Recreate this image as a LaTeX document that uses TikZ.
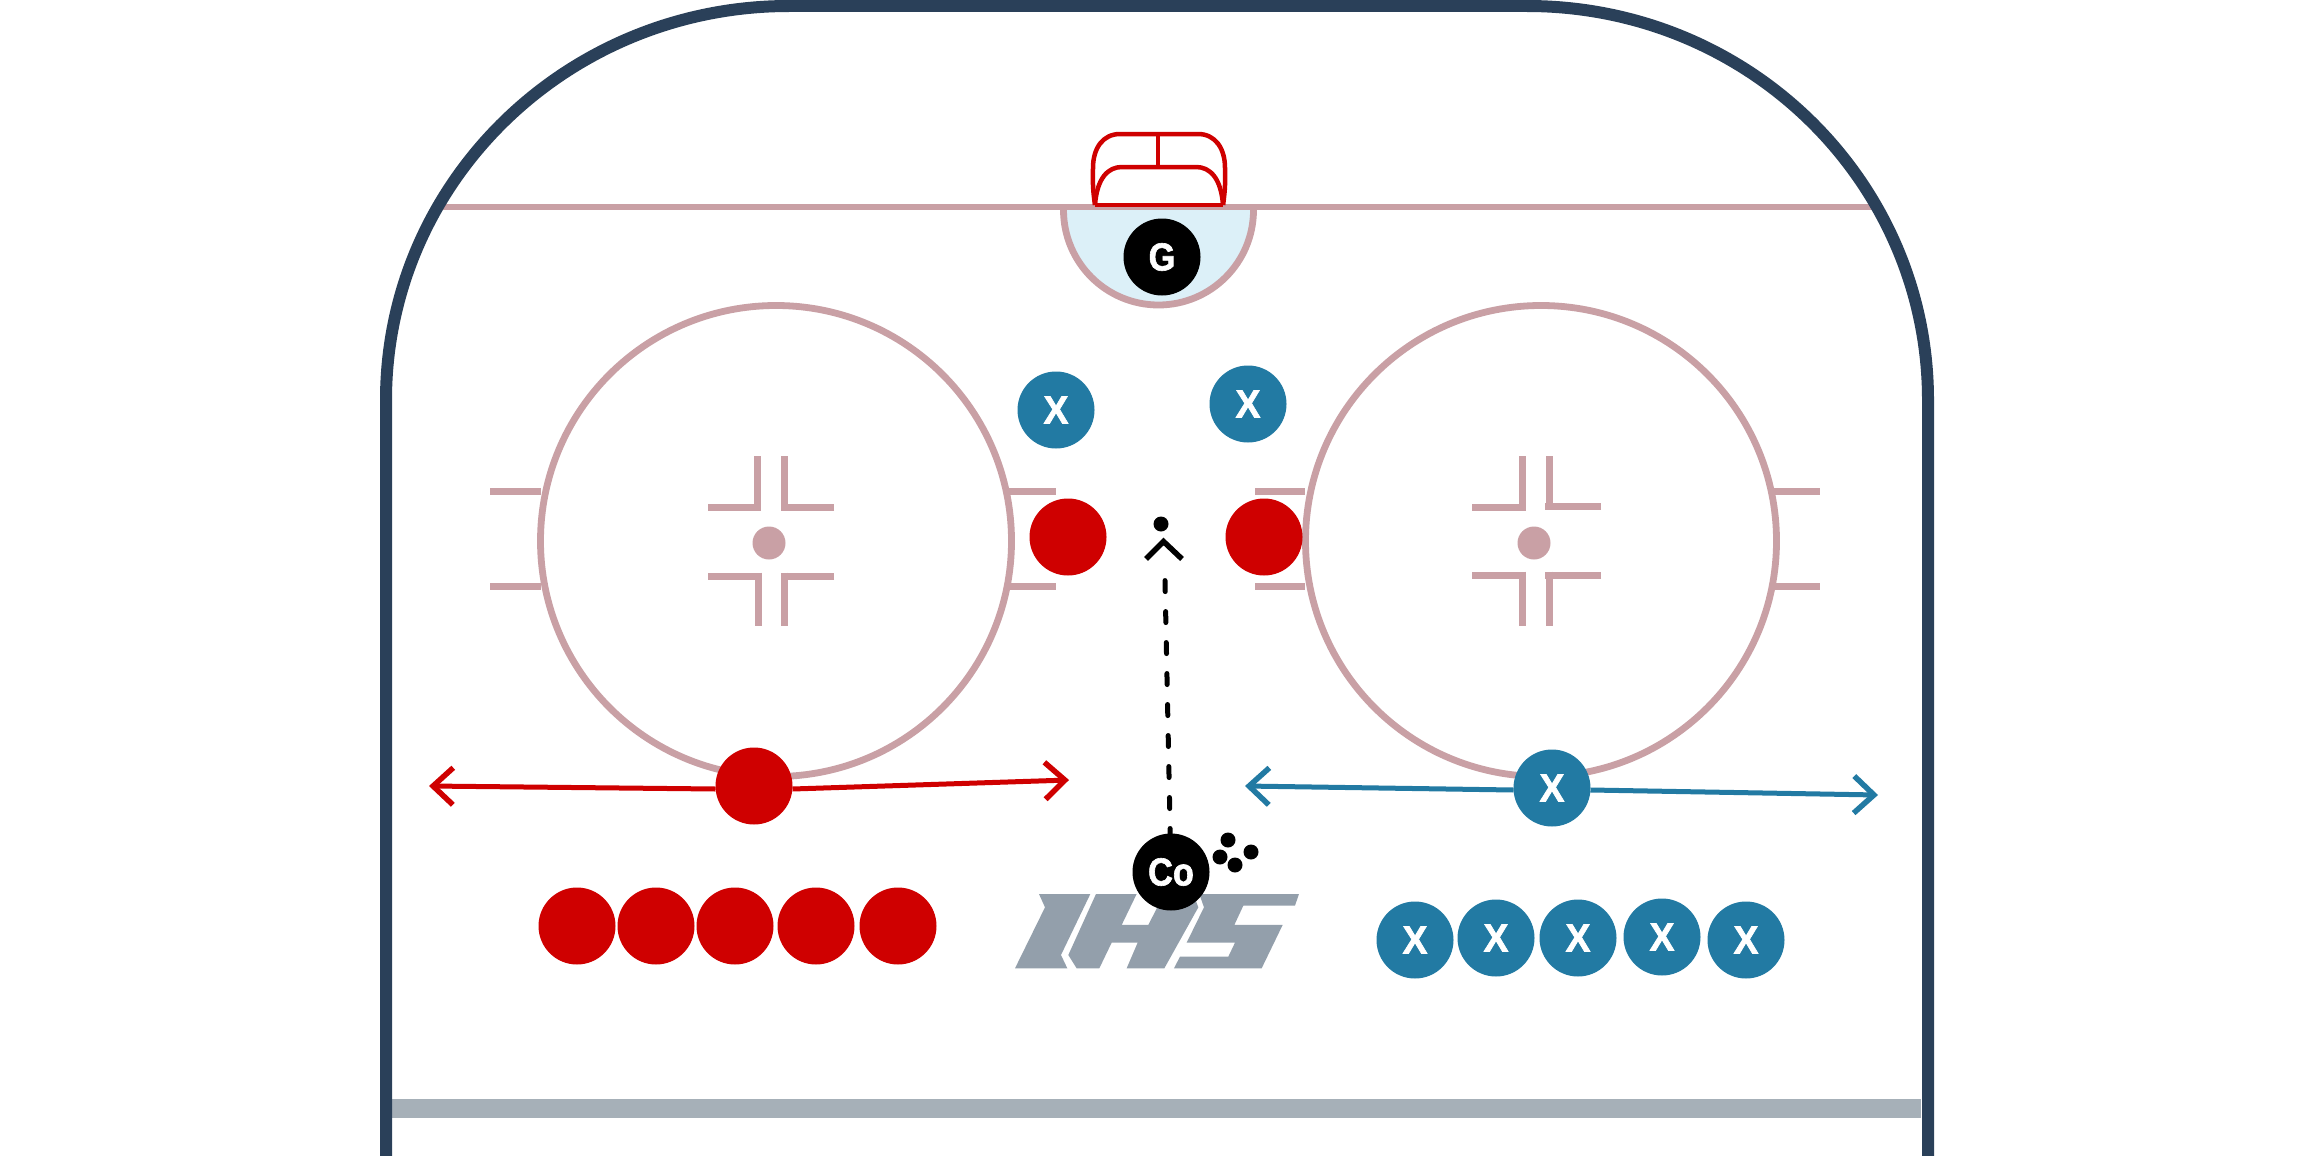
\documentclass[tikz,border=0pt]{standalone}
\usepackage{fontspec}
\setmainfont{Liberation Sans}
\newfontfamily\xfont[FakeBold=1.8,FakeStretch=0.95]{Liberation Sans Bold}
\newfontfamily\gfont[FakeBold=1.6,FakeStretch=0.88]{Liberation Sans Bold}
\usetikzlibrary{arrows.meta}
\definecolor{navy}{HTML}{2A4059}
\definecolor{rinkline}{HTML}{C9A0A5}
\definecolor{creasefill}{HTML}{DCF0F8}
\definecolor{redp}{HTML}{CF0000}
\definecolor{bluep}{HTML}{227AA3}
\definecolor{logogrey}{HTML}{939FAB}
\definecolor{bargrey}{HTML}{A6B0B8}
\tikzset{
  board/.style={draw=navy,line width=12pt},
  rink/.style={draw=rinkline,line width=5.5pt},
  ringline/.style={draw=rinkline,line width=6.8pt},
  facemark/.style={draw=rinkline,line width=7pt},
  disc/.style={circle,minimum size=77pt,inner sep=0pt,outer sep=0pt,text=white,font=\gfont\fontsize{39}{39}\selectfont},
  redplayer/.style={disc,fill=redp},
  blueplayer/.style={disc,fill=bluep,font=\xfont\fontsize{39}{39}\selectfont},
  blackplayer/.style={disc,fill=black},
  puck/.style={circle,fill=black,minimum size=15pt,inner sep=0pt},
  barb/.style={-{Straight Barb[length=20pt,width=37pt,line width=5.5pt]},line width=5pt},
  netline/.style={draw=redp,line width=4.5pt,line join=round},
  pass/.style={line width=5pt,line cap=round,dash pattern=on 11pt off 20pt,dash phase=6pt},
  chevron/.style={line width=5.5pt,line join=miter}
}
\begin{document}
\begin{tikzpicture}[x=1pt,y=-1pt]
\useasboundingbox[fill=white] (0,0) rectangle (2313,1156);
% goal line and bar
\draw[rink] (440,207) -- (1873,207);
\fill[bargrey] (392,1099) rectangle (1921,1118);
% board
\draw[board] (386,1170) -- (386,400) .. controls (386,183) and (566,6) .. (789,6)
  -- (1527,6) .. controls (1750,6) and (1928,183) .. (1928,400) -- (1928,1170);
% crease
\filldraw[ringline,fill=creasefill] (1063.5,210) arc[start angle=180,end angle=360,radius=95pt];
\draw[rink] (1058,207) -- (1258,207);
% net
\draw[netline] (1095,205) -- (1223,205);
\draw[netline] (1095,205) .. controls (1092,185) and (1093,175) .. (1093,168)
  .. controls (1093,148) and (1103,134) .. (1120,134) -- (1198,134)
  .. controls (1215,134) and (1225,148) .. (1225,168)
  .. controls (1225,175) and (1226,185) .. (1223,205);
\draw[netline] (1095,205) .. controls (1097,178) and (1108,167) .. (1122,167) -- (1196,167)
  .. controls (1210,167) and (1221,178) .. (1223,205);
\draw[netline] (1158,134) -- (1158,167);
% circles
\draw[ringline] (776,541) circle[radius=235.5pt];
\draw[ringline] (1541,541) circle[radius=235.5pt];
% hash marks
\foreach \yy in {491,586}{
  \draw[facemark] (490,\yy) -- (541,\yy);
  \draw[facemark] (1008,\yy) -- (1056,\yy);
  \draw[facemark] (1255,\yy) -- (1305,\yy);
  \draw[facemark] (1774,\yy) -- (1820,\yy);
}
% faceoff marks, left
\fill[rinkline] (769,543) circle[radius=16.5pt];
\draw[facemark] (708,507) -- (761,507) (757,456) -- (757,510);
\draw[facemark] (834,507) -- (781,507) (784,456) -- (784,510);
\draw[facemark] (708,576) -- (761,576) (758,572.5) -- (758,626);
\draw[facemark] (834,576) -- (781,576) (784,572.5) -- (784,626);
% faceoff marks, right
\fill[rinkline] (1534,543) circle[radius=16.5pt];
\draw[facemark] (1472,507) -- (1526,507) (1522,456) -- (1522,510);
\draw[facemark] (1601,506) -- (1545,506) (1549,456) -- (1549,510);
\draw[facemark] (1472,575) -- (1526,575) (1522,571.5) -- (1522,626);
\draw[facemark] (1601,575) -- (1545,575) (1549,571.5) -- (1549,626);
% logo
\begin{scope}[shift={(980,820)},x=0.3333pt,y=-0.3333pt]
\fill[logogrey] (177,222) -- (331,222) -- (243,405) -- (262,445) -- (105,445) -- (195,262) -- cycle;
\fill[logogrey] (348,222) -- (470,222) -- (425,315) -- (505,315) -- (552,222) -- (640,222) -- (655,262)
  -- (553,445) -- (440,445) -- (473,368) -- (395,368) -- (358,445) -- (290,445) -- (265,405) -- cycle;
\fill[logogrey] (658,222) -- (957,222) -- (945,257) -- (790,257) -- (763,315) -- (908,315) -- (845,445)
  -- (582,445) -- (600,410) -- (745,410) -- (765,368) -- (620,368) -- (672,262) -- cycle;
\end{scope}
% players
\node[blackplayer] (goalie) at (1162,257) {G};
\node[redplayer] (r1) at (1068,537) {};
\node[redplayer] (r2) at (1264,537) {};
\node[redplayer] (r3) at (754,786) {};
\node[redplayer] (r4) at (577,926) {};
\node[redplayer] (r5) at (656,926) {};
\node[redplayer] (r6) at (735,926) {};
\node[redplayer] (r7) at (816,926) {};
\node[redplayer] (r8) at (898,926) {};
\node[blueplayer] (b1) at (1056,410) {X};
\node[blueplayer] (b2) at (1248,404) {X};
\node[blueplayer] (b3) at (1552,788) {X};
\node[blueplayer] (b4) at (1415,940) {X};
\node[blueplayer] (b5) at (1496,938) {X};
\node[blueplayer] (b6) at (1578,938) {X};
\node[blueplayer] (b7) at (1662,937) {X};
\node[blueplayer] (b8) at (1746,940) {X};
\node[blackplayer] (coach) at (1171,872) {Co};
% pucks
\node[puck] (p1) at (1228,840) {};
\node[puck] (p2) at (1251,852) {};
\node[puck] (p3) at (1220,857) {};
\node[puck] (p4) at (1235,865) {};
\node[puck] (p5) at (1161,524) {};
% skating paths
\coordinate (redleft) at (429,786);
\coordinate (redright) at (1069,780);
\coordinate (blueleft) at (1245,786);
\coordinate (blueright) at (1878,795);
\coordinate (passstop) at (1165,580.5);
\coordinate (chevl) at (1146,559);
\coordinate (chevtop) at (1163.5,541.5);
\coordinate (chevr) at (1182,559);
\draw[barb,draw=redp] ([yshift=-3pt]r3.west) -- (redleft);
\draw[barb,draw=redp] ([yshift=-3pt]r3.east) -- (redright);
\draw[barb,draw=bluep] ([yshift=-2pt]b3.west) -- (blueleft);
\draw[barb,draw=bluep] ([yshift=-2pt]b3.east) -- (blueright);
\draw[pass] (coach) -- (passstop);
\draw[chevron] (chevl) -- (chevtop) -- (chevr);
\end{tikzpicture}
\end{document}
